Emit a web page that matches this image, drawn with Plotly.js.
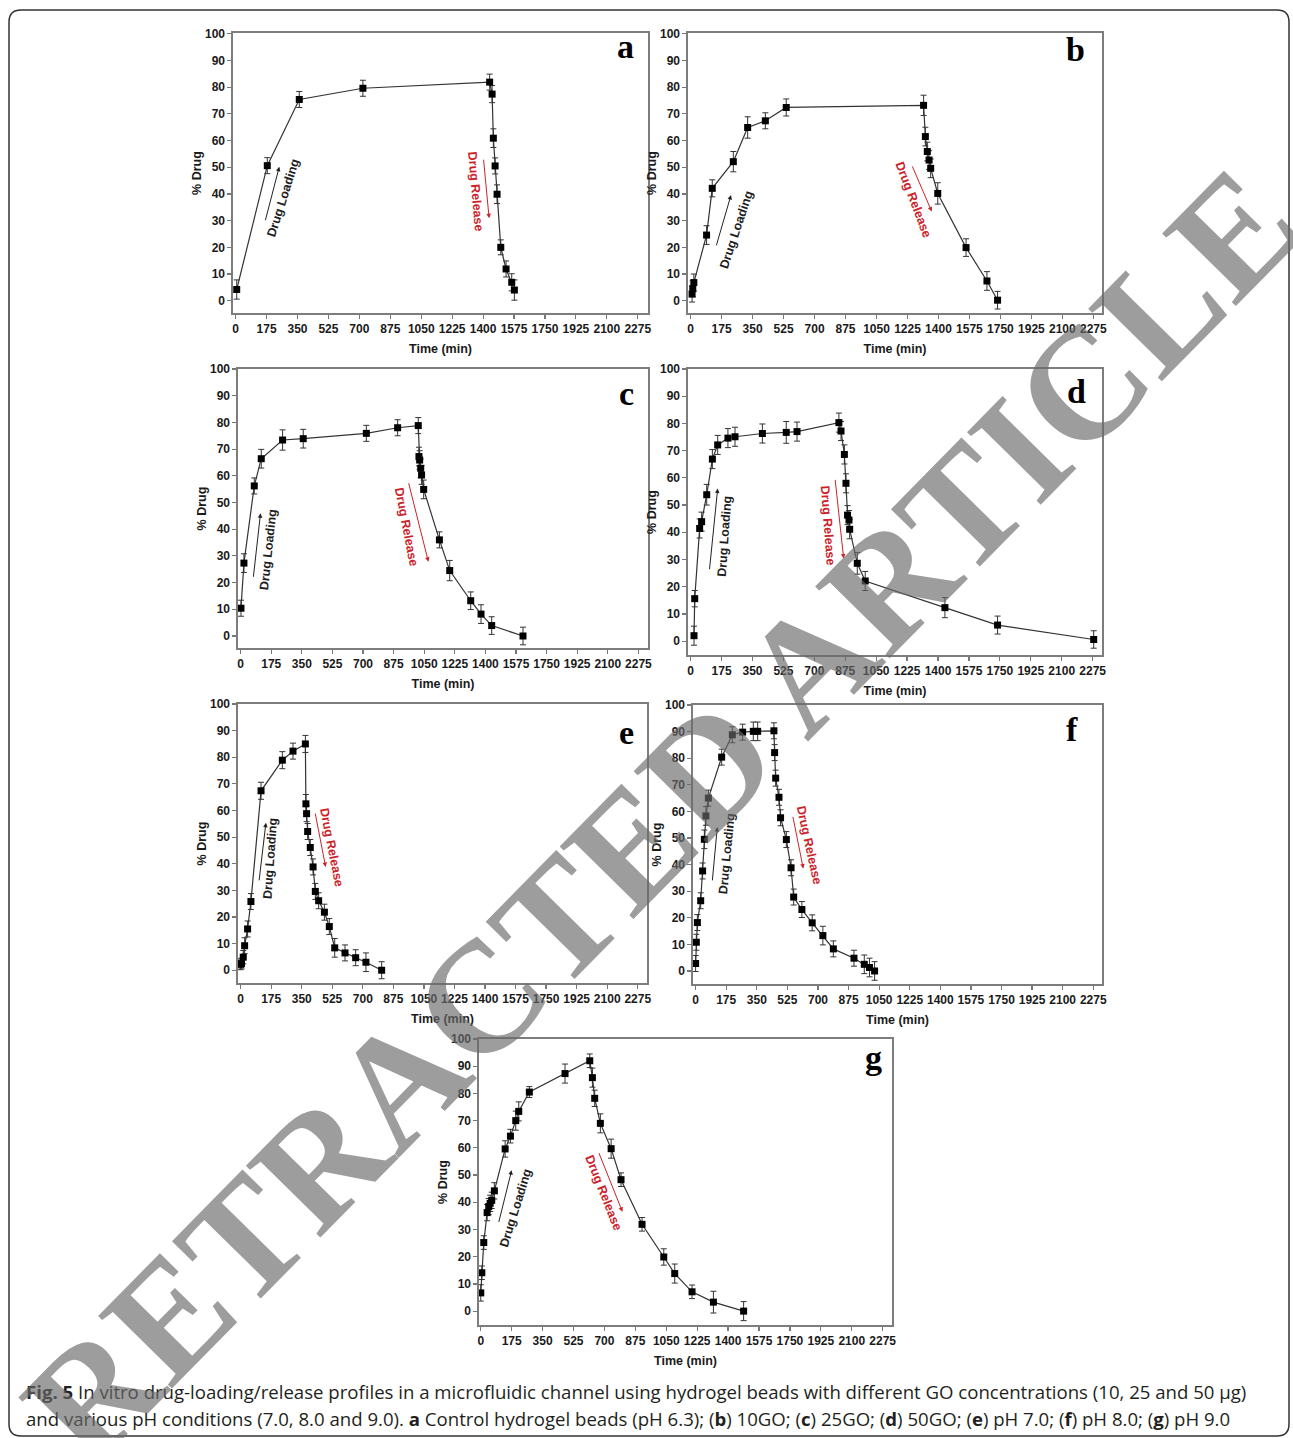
<!DOCTYPE html>
<html>
<head>
<meta charset="utf-8">
<script src="https://cdn.plot.ly/plotly-3.0.1.min.js"></script>
<style>html,body{margin:0;padding:0;background:#fff;}#chart{width:1293px;height:1438px;}</style>
</head>
<body>
<div id="chart"></div>
<script>
// ---------- data ----------
const xTicks = [0,175,350,525,700,875,1050,1225,1400,1575,1750,1925,2100,2275];
const yTicks = [0,10,20,30,40,50,60,70,80,90,100];
const panelLetters = ['a','b','c','d','e','f','g'];

const timeA = [6,179,360,720,1437,1451,1458,1468,1479,1500,1530,1562,1577];
const drugA = [4.2,50.6,75.4,79.6,81.9,77.4,60.9,50.5,39.9,20.0,11.9,6.9,4.0];
const errA  = [3.6,3.0,3.0,3.0,3.0,3.2,3.5,3.0,3.5,2.8,3.0,3.2,3.8];

const timeB = [8,12,18,90,122,241,322,422,540,1316,1326,1337,1347,1356,1396,1556,1674,1734];
const drugB = [2.5,4.5,6.8,24.6,42.1,52.1,64.9,67.4,72.4,73.2,61.5,55.9,52.7,49.6,40.2,19.9,7.4,0.2];
const errB  = [3,3,3.2,3.5,3.2,3.8,4,3,3.2,3.8,3.5,3.5,3.5,3.5,4,3.3,3.5,3.3];

const timeC = [2,19,78,118,240,358,719,898,1016,1020,1024,1030,1035,1047,1137,1196,1316,1375,1436,1615];
const drugC = [10.4,27.3,56.2,66.4,73.4,73.9,75.9,78.0,78.8,67.2,65.9,62.8,60.3,54.9,36.0,24.5,13.2,8.2,3.9,0];
const errC  = [3,3.5,3,3.5,3.8,3.5,3,3,3,3.5,3.5,3.5,3.5,3.5,3,3.8,3.3,3.5,3.3,3.3];

const timeD = [19,23,51,62,91,123,153,211,251,406,541,602,839,851,870,879,888,896,900,943,988,1439,1737,2281];
const drugD = [2.0,15.6,41.4,43.9,53.8,66.9,72.1,74.6,75.1,76.3,76.7,77.0,80.3,77.2,68.6,58.0,46.3,44.5,41.1,28.6,22.1,12.3,5.9,0.6];
const errD  = [3.5,3,3.5,3.5,3.8,3.5,3.5,3.5,3.5,3.5,4,3.5,3.5,3.5,3.5,3.5,3.5,3.5,3.5,4,3.5,3.7,3.3,3.2];

const timeE = [0,5,15,23,40,59,117,239,300,371,374,378,384,399,415,428,447,480,508,539,598,659,718,808];
const drugE = [2.2,2.5,4.9,9.2,15.5,25.8,67.4,78.9,82.3,85.0,62.5,58.8,52.1,46.1,38.8,29.6,26.1,21.8,16.4,8.4,6.5,4.7,3.0,0];
const errE  = [2,2,2.5,3,3,3,3.2,3.2,3,3.2,3.5,3,3,3,3,3,3,3,3,3.5,3,3,3.5,3.2];

const timeF = [0,4,10,29,40,50,59,73,149,210,269,330,355,448,452,458,477,486,519,546,561,608,667,728,788,906,965,995,1024];
const drugF = [2.8,10.8,18.2,26.4,37.6,49.5,58.3,65.0,80.4,88.8,89.8,90.1,90.1,90.3,82.1,72.5,65.3,57.6,49.4,38.8,27.8,23.1,18.1,13.3,8.3,4.8,2.5,1.3,0];
const errF  = [3,3,3,3,3,3.5,3.5,3,3,3,3,3.5,3.5,3,3,3,3,3,3,3,3,3,3,3.5,3,3,3.5,3.5,3.5];

const timeG = [0,6,17,36,45,53,62,77,138,168,198,215,275,477,617,632,645,677,738,794,913,1036,1098,1196,1317,1488];
const drugG = [6.7,14.1,25.2,36.2,38.4,39.6,40.7,44.2,59.6,64.3,70.0,73.4,80.5,87.3,92.0,85.8,78.2,69.0,59.7,48.3,31.9,19.9,13.8,7.1,3.3,0];
const errG  = [3,2.5,2.5,3,3,3,3,3,3,2.5,3.5,3.5,2,3.5,2.5,3.5,3,3.5,3.5,2.5,2.5,3,3.5,2.5,4,3.5];

const seriesTime = [timeA,timeB,timeC,timeD,timeE,timeF,timeG];
const seriesDrug = [drugA,drugB,drugC,drugD,drugE,drugF,drugG];
const seriesErr  = [errA,errB,errC,errD,errE,errF,errG];

// ---------- layout geometry (pixels) ----------
const W = 1293, H = 1438;
const boxes = [
  [233,648,33,313],[688,1102,33,313],
  [238,648,369,648],[688,1102,369,655],
  [238,647,704,983],[693,1102,705,984],
  [479,892,1039,1325]
];
const xRanges = [[-15,2333],[-15,2324],[-15,2330],[-15,2328],[-15,2328],[-15,2325],[-10,2328]];
const yRanges = [[-4.6,100.3],[-4.6,100.3],[-4.5,100],[-5.1,100],[-4.8,100],[-4.9,100],[-5.1,100]];
const letterPos = [[625,46],[1075,49],[626,393],[1076,391],[626,732],[1072,730],[873,1057]];

const loadArrow = [[166,29.6,247,50.2],[143,20.2,228,39.6],[72,21.6,114,46],[106,25.9,153,56.1],[105,33.2,145,55.4],[95,33.5,124,54.1],[100,32.2,175,51.8]];
const loadText  = [[270,38.4,-72.5],[258,26.5,-71.6],[158,32.2,-84],[190,38.4,-86],[172,42,-86],[177,44.1,-84.6],[194,37.7,-72.8]];
const relArrow  = [[1402,53.4,1434,30.9],[1249,50.9,1362,33.4],[959,57.8,1074,27.8],[817,59.8,866,30.4],[426,59.4,487,38.8],[555,58.5,616,38.5],[666,58.6,802,36.5]];
const relText   = [[1360,40.9,85],[1258,37.7,69],[950,41,79],[775,42.6,85.6],[521,46.3,78.8],[648,47.3,77.7],[694,43.3,68.4]];

const px2x = p => p / W;
const px2y = p => 1 - p / H;

const sansBold = 'Arial, Liberation Sans, sans-serif';
const tickFont = {family: sansBold, size: 12, color:'#1a1a1a', weight: 700};
const titleFont = {family: sansBold, size: 12.5, color:'#1a1a1a', weight: 700};
const boldText = arr => arr.map(v => '<b>' + v + '</b>');

const layout = {
  width: W, height: H,
  margin: {l:0, r:0, t:0, b:0},
  paper_bgcolor: '#ffffff', plot_bgcolor: '#ffffff',
  showlegend: false,
  annotations: [],
  shapes: []
};
const traces = [];

for (let i = 0; i < 7; i++) {
  const n = i === 0 ? '' : String(i + 1);
  const b = boxes[i];
  layout['xaxis' + n] = {
    domain: [px2x(b[0]), px2x(b[1])],
    anchor: 'y' + n,
    range: xRanges[i],
    tickvals: xTicks, ticktext: boldText(xTicks),
    ticks: 'outside', ticklen: 4, tickwidth: 1.2, tickcolor: '#777',
    showline: true, mirror: true, linecolor: '#7d7d7d', linewidth: 1.6,
    showgrid: false, zeroline: false,
    tickfont: tickFont,
    title: {text: '<b>Time (min)</b>', font: titleFont, standoff: 9}
  };
  layout['yaxis' + n] = {
    domain: [px2y(b[3]), px2y(b[2])],
    anchor: 'x' + n,
    range: yRanges[i],
    tickvals: yTicks, ticktext: boldText(yTicks),
    ticks: 'outside', ticklen: 4, tickwidth: 1.2, tickcolor: '#777',
    showline: true, mirror: true, linecolor: '#7d7d7d', linewidth: 1.6,
    showgrid: false, zeroline: false,
    tickfont: tickFont,
    title: {text: '<b>% Drug</b>', font: titleFont, standoff: 0}
  };
  traces.push({
    type: 'scatter', mode: 'lines+markers',
    x: seriesTime[i], y: seriesDrug[i],
    xaxis: 'x' + n, yaxis: 'y' + n,
    line: {color: '#333', width: 1.2},
    marker: {symbol: 'square', size: 7, color: '#000'},
    error_y: {type: 'data', array: seriesErr[i], visible: true, thickness: 1, width: 3, color: '#333'},
    hoverinfo: 'x+y'
  });
  const xr = 'x' + n, yr = 'y' + n;
  const la = loadArrow[i];
  layout.annotations.push({xref: xr, yref: yr, axref: xr, ayref: yr, x: la[2], y: la[3], ax: la[0], ay: la[1],
    text: '', showarrow: true, arrowhead: 2, arrowsize: 0.9, arrowwidth: 1, arrowcolor: '#222'});
  const lt = loadText[i];
  layout.annotations.push({xref: xr, yref: yr, x: lt[0], y: lt[1], text: '<b>Drug Loading</b>', textangle: lt[2],
    showarrow: false, font: {family: sansBold, size: 12.5, color: '#1e1e1e', weight: 700}});
  const ra = relArrow[i];
  layout.annotations.push({xref: xr, yref: yr, axref: xr, ayref: yr, x: ra[2], y: ra[3], ax: ra[0], ay: ra[1],
    text: '', showarrow: true, arrowhead: 2, arrowsize: 0.9, arrowwidth: 1, arrowcolor: '#cc2229'});
  const rt = relText[i];
  layout.annotations.push({xref: xr, yref: yr, x: rt[0], y: rt[1], text: '<b>Drug Release</b>', textangle: rt[2],
    showarrow: false, font: {family: sansBold, size: 12.5, color: '#cc2229', weight: 700}});
  layout.annotations.push({xref: 'paper', yref: 'paper', x: px2x(letterPos[i][0]), y: px2y(letterPos[i][1]),
    text: '<b>' + panelLetters[i] + '</b>', showarrow: false, xanchor: 'center', yanchor: 'middle',
    font: {family: 'Liberation Serif, Times New Roman, serif', size: 34, color: '#000', weight: 700}});
}

// caption
const capFont = {family: 'Open Sans, Noto Sans, sans-serif', size: 18.6, color: '#231f20'};
layout.annotations.push({xref: 'paper', yref: 'paper', x: px2x(24), y: px2y(1391), xanchor: 'left', yanchor: 'middle', showarrow: false,
  font: capFont,
  text: '<b>Fig. 5</b> In vitro drug-loading/release profiles in a microfluidic channel using hydrogel beads with different GO concentrations (10, 25 and 50 μg)'});
layout.annotations.push({xref: 'paper', yref: 'paper', x: px2x(24), y: px2y(1418), xanchor: 'left', yanchor: 'middle', showarrow: false,
  font: capFont,
  text: 'and various pH conditions (7.0, 8.0 and 9.0). <b>a</b> Control hydrogel beads (pH 6.3); (<b>b</b>) 10GO; (<b>c</b>) 25GO; (<b>d</b>) 50GO; (<b>e</b>) pH 7.0; (<b>f</b>) pH 8.0; (<b>g</b>) pH 9.0'});

// watermark
layout.annotations.push({xref: 'paper', yref: 'paper', x: px2x(660), y: px2y(815), xanchor: 'center', yanchor: 'middle',
  showarrow: false, text: '<b>RETRACTED ARTICLE</b>', textangle: -45.5, opacity: 0.65,
  font: {family: 'Liberation Serif, Times New Roman, serif', size: 158, color: '#6a6a6a', weight: 700}});

// rounded border around the figure
const L = px2x(9), R = px2x(1289), T = px2y(10), B = px2y(1436);
const rx = 12 / W, ry = 12 / H;
layout.shapes.push({type: 'path', xref: 'paper', yref: 'paper', line: {color: '#333', width: 1.5},
  path: `M ${L+rx},${T} L ${R-rx},${T} Q ${R},${T} ${R},${T-ry} L ${R},${B+ry} Q ${R},${B} ${R-rx},${B} L ${L+rx},${B} Q ${L},${B} ${L},${B+ry} L ${L},${T-ry} Q ${L},${T} ${L+rx},${T} Z`});

Plotly.newPlot('chart', traces, layout, {staticPlot: true, displayModeBar: false});
</script>
</body>
</html>
